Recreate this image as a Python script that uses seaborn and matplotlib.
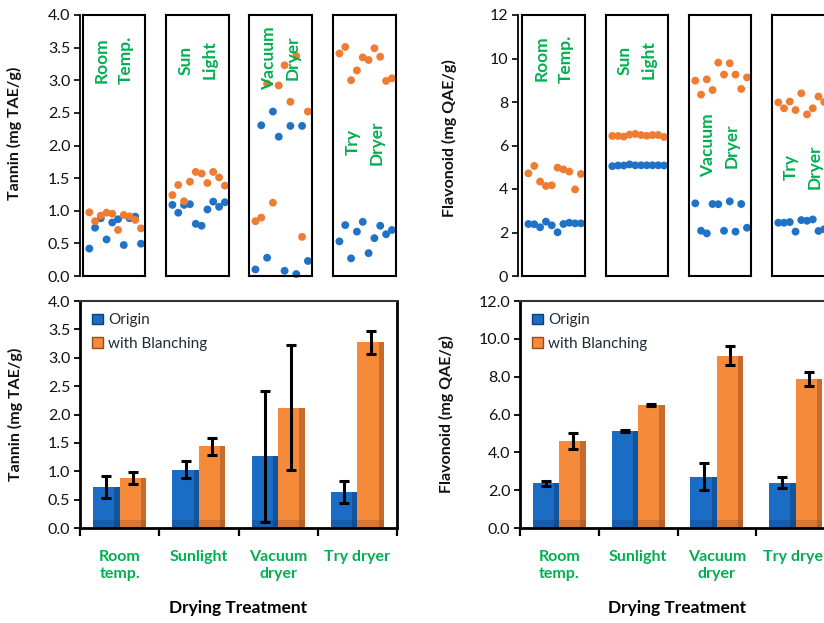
import numpy as np
import pandas as pd
import seaborn as sns
import matplotlib.pyplot as plt
import matplotlib.transforms as mtrans
from matplotlib.patches import Rectangle, Patch

# treatments
treat_boxes = ['Room\nTemp.', 'Sun\nLight', 'Vacuum\nDryer', 'Try\nDryer']
treat_ticks = ['Room\ntemp.', 'Sunlight', 'Vacuum\ndryer', 'Try dryer']
series = ['Origin', 'with Blanching']

# replicate points (10 per treatment) - tannin
tan_org_pts = [
    [0.42, 0.74, 0.885, 0.56, 0.82, 0.87, 0.475, 0.885, 0.91, 0.495],
    [1.09, 0.97, 1.09, 1.10, 0.80, 0.77, 1.02, 1.14, 1.06, 1.13],
    [0.10, 2.31, 0.28, 2.52, 2.135, 0.08, 2.30, 0.03, 2.30, 0.23],
    [0.53, 0.78, 0.27, 0.68, 0.83, 0.35, 0.58, 0.77, 0.64, 0.705],
]
tan_bl_pts = [
    [0.976, 0.84, 0.925, 0.97, 0.955, 0.705, 0.935, 0.915, 0.86, 0.73],
    [1.24, 1.395, 1.145, 1.445, 1.595, 1.57, 1.425, 1.595, 1.51, 1.385],
    [0.84, 0.895, 2.95, 1.124, 2.92, 3.23, 2.67, 3.37, 0.60, 2.52],
    [3.41, 3.51, 3.00, 3.15, 3.35, 3.31, 3.49, 3.36, 2.99, 3.03],
]
# flavonoid
fla_org_pts = [
    [2.39, 2.38, 2.24, 2.50, 2.33, 2.01, 2.39, 2.45, 2.42, 2.42],
    [5.05, 5.08, 5.08, 5.13, 5.09, 5.09, 5.09, 5.09, 5.09, 5.08],
    [3.34, 2.08, 1.96, 3.31, 3.30, 2.08, 3.43, 2.04, 3.31, 2.22],
    [2.45, 2.45, 2.48, 2.04, 2.57, 2.54, 2.60, 2.07, 2.15, 2.20],
]
fla_bl_pts = [
    [4.72, 5.06, 4.34, 4.14, 4.17, 4.98, 4.90, 4.80, 3.98, 4.69],
    [6.44, 6.44, 6.41, 6.50, 6.53, 6.48, 6.45, 6.48, 6.48, 6.39],
    [8.98, 8.34, 9.04, 8.55, 9.81, 9.26, 9.78, 9.26, 8.60, 9.13],
    [7.98, 7.71, 8.02, 7.63, 8.40, 7.43, 7.71, 8.25, 8.00, 7.90],
]
box_label_y_tan = [3.31, 3.31, 3.34, 2.05]
box_label_y_fla = [10.0, 9.93, 6.0, 5.03]

# bar means and error bars
tan_org_mean = [0.72, 1.03, 1.26, 0.63]
tan_bl_mean = [0.88, 1.44, 2.12, 3.27]
tan_org_err = [0.19, 0.15, 1.15, 0.19]
tan_bl_err = [0.10, 0.15, 1.10, 0.20]
fla_org_mean = [2.36, 5.12, 2.72, 2.40]
fla_bl_mean = [4.58, 6.50, 9.10, 7.88]
fla_org_err = [0.13, 0.04, 0.69, 0.28]
fla_bl_err = [0.42, 0.05, 0.50, 0.35]

BLUE_PT = '#1F72C6'
ORANGE_PT = '#EE7D33'
BLUE_BAR = '#1A6CC4'
ORANGE_BAR = '#F58A3B'
BLUE_DK = '#0D3F78'
ORANGE_DK = '#9A4B1C'
GREEN = '#00B050'

sns.set_theme(style='white')
plt.rcParams['font.family'] = ['Lato', 'DejaVu Sans']

W, H = 824, 623
fig = plt.figure(figsize=(W / 100, H / 100), dpi=100)
fig.patch.set_facecolor('white')


def px_axes(x0, y0, x1, y1, **kw):
    return fig.add_axes([x0 / W, 1 - y1 / H, (x1 - x0) / W, (y1 - y0) / H], **kw)


def points_frame(org, bl):
    rows = []
    for i, (a, b) in enumerate(zip(org, bl)):
        for r, v in enumerate(a):
            rows.append((i, r, 'Origin', v))
        for r, v in enumerate(b):
            rows.append((i, r, 'with Blanching', v))
    return pd.DataFrame(rows, columns=['treat', 'rep', 'series', 'value'])


def top_panel(spine_x, boxes, org, bl, ylim, yticks, fmt, ylabel, label_ys, label_x, label_fy):
    df = points_frame(org, bl)
    yax = px_axes(spine_x, 15, boxes[-1][1], 276)
    yax.set_facecolor('none')
    yax.set_ylim(*ylim)
    yax.set_xticks([])
    for s in ['top', 'right', 'bottom']:
        yax.spines[s].set_visible(False)
    yax.spines['left'].set_color('black')
    yax.spines['left'].set_linewidth(1.3)
    yax.set_yticks(yticks)
    yax.set_yticklabels([fmt % t for t in yticks], fontsize=11.5, color='#111111')
    yax.tick_params(axis='y', direction='out', length=4, width=1.2, color='black', left=True, pad=3)
    yax.set_ylabel(ylabel, fontsize=11.5, fontweight='bold', color='#111111')
    yax.yaxis.set_label_coords((label_x - spine_x) / (boxes[-1][1] - spine_x), label_fy)

    for i, (x0, x1) in enumerate(boxes):
        bx = px_axes(x0, 15, x1, 276)
        bx.set_facecolor('none')
        sub = df[df.treat == i]
        sns.scatterplot(data=sub, x='rep', y='value', hue='series',
                        palette={'Origin': BLUE_PT, 'with Blanching': ORANGE_PT},
                        s=32, linewidth=0, legend=False, ax=bx, clip_on=False)
        bx.set_xlim(-1.1, 9.7)
        bx.set_ylim(*ylim)
        bx.set_xticks([])
        bx.set_yticks([])
        bx.set_xlabel('')
        bx.set_ylabel('')
        for s in bx.spines.values():
            s.set_visible(True)
            s.set_color('black')
            s.set_linewidth(1.5)
        tr = mtrans.blended_transform_factory(bx.transAxes, bx.transData)
        bx.text(0.5, label_ys[i], treat_boxes[i], transform=tr, rotation=90,
                ha='center', va='center', multialignment='center', linespacing=1.6,
                color=GREEN, fontsize=12.5, fontweight='bold')


def bar_panel(x0, x1, org_m, bl_m, org_e, bl_e, ylim, yticks, ylabel, label_x, right_spine):
    ax = px_axes(x0, 301, x1, 528)
    df = pd.DataFrame({
        'treat': treat_ticks * 2,
        'series': ['Origin'] * 4 + ['with Blanching'] * 4,
        'value': org_m + bl_m,
    })
    sns.barplot(data=df, x='treat', y='value', hue='series',
                palette={'Origin': BLUE_BAR, 'with Blanching': ORANGE_BAR},
                width=0.67, gap=0, errorbar=None, legend=False, ax=ax,
                saturation=1, linewidth=0)
    darks = [BLUE_DK, ORANGE_DK]
    for cont, errs, dk in zip(ax.containers, [org_e, bl_e], darks):
        for bar, e in zip(cont, errs):
            bxp, bw, bh = bar.get_x(), bar.get_width(), bar.get_height()
            ax.add_patch(Rectangle((bxp + 0.8 * bw, 0), 0.2 * bw, bh, color=dk, alpha=0.5, lw=0))
            ax.add_patch(Rectangle((bxp, 0), bw, 0.035 * (ylim[1] - ylim[0]), color=dk, alpha=0.3, lw=0))
            ax.errorbar(bxp + bw / 2, bh, yerr=e, fmt='none', ecolor='black',
                        elinewidth=2.2, capsize=3.5, capthick=2.2, zorder=5)
    ax.set_xlim(-0.5, 3.5)
    ax.set_ylim(*ylim)
    ax.set_yticks(yticks)
    ax.set_yticklabels(['%.1f' % t for t in yticks], fontsize=11.5, color='#111111')
    ax.tick_params(axis='y', direction='out', length=4, width=1.3, color='black', left=True, pad=3)
    ax.set_xticks(range(4))
    ax.set_xticklabels(treat_ticks, fontsize=11.5, fontweight='bold', color=GREEN, linespacing=1.25)
    ax.set_xticks(np.arange(-0.5, 4, 1.0), minor=True)
    ax.tick_params(axis='x', which='major', length=0, pad=16)
    ax.tick_params(axis='x', which='minor', direction='out', length=6, width=1.6,
                   color='black', bottom=True)
    ax.set_xlabel('Drying Treatment', fontsize=12.5, fontweight='bold', color='black', labelpad=14)
    ax.set_ylabel(ylabel, fontsize=11.5, fontweight='bold', color='#111111')
    ax.yaxis.set_label_coords((label_x - x0) / (x1 - x0), 0.5)
    for s in ['left', 'bottom']:
        ax.spines[s].set_color('black')
        ax.spines[s].set_linewidth(2)
    ax.spines['top'].set_color('#333333')
    ax.spines['top'].set_linewidth(1.5)
    ax.spines['right'].set_visible(right_spine)
    ax.spines['right'].set_color('black')
    ax.spines['right'].set_linewidth(2)
    handles = [Patch(facecolor=BLUE_BAR, edgecolor=BLUE_DK, label='Origin'),
               Patch(facecolor=ORANGE_BAR, edgecolor=ORANGE_DK, label='with Blanching')]
    leg = ax.legend(handles=handles, loc='upper left', frameon=False, fontsize=11,
                    handlelength=0.7, handleheight=0.7, handletextpad=0.35,
                    labelspacing=0.65, borderaxespad=0.4, bbox_to_anchor=(0.0, 1.0))
    for t in leg.get_texts():
        t.set_color('#1f2a36')


top_panel(80, [(83, 145), (166, 229), (249, 312), (333, 396)],
          tan_org_pts, tan_bl_pts, (0, 4.0), np.arange(0, 4.01, 0.5), '%.1f',
          'Tannin (mg TAE/g)', box_label_y_tan, 22, 0.545)
top_panel(518, [(522, 585), (606, 668), (689, 751), (772, 834)],
          fla_org_pts, fla_bl_pts, (0, 12), np.arange(0, 12.1, 2), '%d',
          'Flavonoid (mg QAE/g)', box_label_y_fla, 457, 0.53)

bar_panel(80, 397, tan_org_mean, tan_bl_mean, tan_org_err, tan_bl_err,
          (0, 4.0), np.arange(0, 4.01, 0.5), 'Tannin (mg TAE/g)', 23, True)
bar_panel(520, 835, fla_org_mean, fla_bl_mean, fla_org_err, fla_bl_err,
          (0, 12.0), np.arange(0, 12.1, 2), 'Flavonoid (mg QAE/g)', 454, False)

fig.savefig('out.png', dpi=100, facecolor='white')
